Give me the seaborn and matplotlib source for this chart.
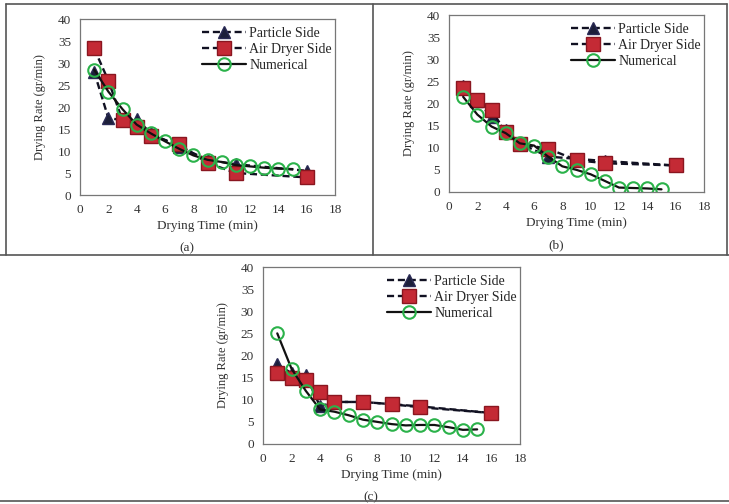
import numpy as np
import pandas as pd
import matplotlib
matplotlib.use("Agg")
import matplotlib.pyplot as plt
from matplotlib.lines import Line2D
import seaborn as sns

# ---------------- data ----------------
exp_time = [1, 2, 3, 4, 5, 7, 9, 11, 16]
num_time = [1, 2, 3, 4, 5, 6, 7, 8, 9, 10, 11, 12, 13, 14, 15]

a_particle = [28.0, 17.5, 17.0, 17.3, 14.0, 11.0, 8.0, 7.0, 5.5]
a_air = [33.3, 26.0, 17.0, 15.5, 13.5, 11.5, 7.3, 5.0, 4.0]
a_num = [28.5, 23.5, 19.5, 16.0, 14.0, 12.2, 10.5, 9.0, 8.0, 7.5, 6.8, 6.5, 6.2, 6.0, 5.9]

b_particle = [24.0, 20.5, 17.0, 14.0, 11.0, 8.0, 7.5, 7.0, 6.0]
b_air = [23.5, 20.8, 18.5, 13.5, 10.8, 9.8, 7.2, 6.5, 6.0]
b_num = [21.5, 17.5, 14.8, 13.3, 11.0, 10.5, 8.0, 5.8, 5.0, 4.0, 2.5, 1.0, 0.9, 0.8, 0.6]

c_particle = [18.0, 16.0, 15.5, 8.5, 9.5, 9.5, 9.0, 8.5, 7.0]
c_air = [16.0, 15.0, 14.5, 11.8, 9.5, 9.5, 9.0, 8.3, 7.0]
c_num = [25.0, 17.0, 12.0, 7.8, 7.3, 6.5, 5.5, 5.0, 4.5, 4.2, 4.3, 4.3, 3.8, 3.2, 3.3]

labels = ["Particle Side", "Air Dryer Side", "Numerical"]
panel_tags = ["(a)", "(b)", "(c)"]
x_ticks = [0, 2, 4, 6, 8, 10, 12, 14, 16, 18]
y_ticks = [0, 5, 10, 15, 20, 25, 30, 35, 40]

# ---------------- style ----------------
sns.set_style("white")
plt.rcParams["font.family"] = ["Liberation Serif", "DejaVu Serif"]
plt.rcParams["font.size"] = 9

W, H = 729, 504
fig = plt.figure(figsize=(W / 100, H / 100), dpi=100)


def px_axes(left, right, top, bottom):
    return fig.add_axes([left / W, (H - bottom) / H, (right - left) / W, (bottom - top) / H])


axes_px = [(80, 335, 19, 195), (449, 704, 15, 192), (263, 520, 267, 444)]
datasets = [(a_particle, a_air, a_num), (b_particle, b_air, b_num), (c_particle, c_air, c_num)]
dash = (0, (3.0, 1.6))

for (l, r, t, b), (part, air, num), tag in zip(axes_px, datasets, panel_tags):
    ax = px_axes(l, r, t, b)
    sns.lineplot(x=exp_time, y=part, ax=ax, color="#111122", linestyle=dash, lw=1.7,
                 marker="^", markersize=8.5, markerfacecolor="#1c1f3a",
                 markeredgecolor="#2a2a55", markeredgewidth=1.0, label=labels[0])
    sns.lineplot(x=exp_time, y=air, ax=ax, color="#111122", linestyle=dash, lw=1.7,
                 marker="s", markersize=9.5, markerfacecolor="#c42a35",
                 markeredgecolor="#8a1620", markeredgewidth=1.0, label=labels[1])
    sns.lineplot(x=num_time, y=num, ax=ax, color="#111111", linestyle="-", lw=1.6,
                 marker="o", markersize=9, markerfacecolor="none",
                 markeredgecolor="#2bb24a", markeredgewidth=1.5, label=labels[2])
    ax.set_xlim(0, 18)
    ax.set_ylim(0, 40)
    ax.set_xticks(x_ticks)
    ax.set_yticks(y_ticks)
    ax.tick_params(axis="both", direction="out", length=3, width=0.8, colors="#444444",
                   labelsize=9.5, labelcolor="#333333", pad=3.5)
    for s in ax.spines.values():
        s.set_color("#777777")
        s.set_linewidth(0.9)
    ax.set_xlabel("Drying Time (min)", fontsize=9.5, color="#333333", labelpad=3)
    ax.set_ylabel("Drying Rate (gr/min)", fontsize=9, color="#333333", labelpad=8)
    ax.legend(loc="upper right", bbox_to_anchor=(1.02, 1.0), frameon=False, fontsize=10,
              handlelength=3.2, handletextpad=0.2, labelspacing=0.2, borderaxespad=0.2)
    ax.text(0.42, -0.30, tag, transform=ax.transAxes, ha="center", va="center",
            fontsize=9.5, color="#333333")

# panel border lines (figure pixel coords)
def hline(y, x0, x1, lw=1.2, c="#555555"):
    fig.add_artist(Line2D([x0 / W, x1 / W], [(H - y) / H, (H - y) / H], color=c, lw=lw))


def vline(x, y0, y1, lw=1.2, c="#555555"):
    fig.add_artist(Line2D([x / W, x / W], [(H - y0) / H, (H - y1) / H], color=c, lw=lw))


hline(4, 6, 727)
hline(255, 0, 729)
hline(501, 0, 729)
vline(6, 4, 255)
vline(373, 4, 255)
vline(727, 4, 255)

fig.savefig("out.png", dpi=100)
